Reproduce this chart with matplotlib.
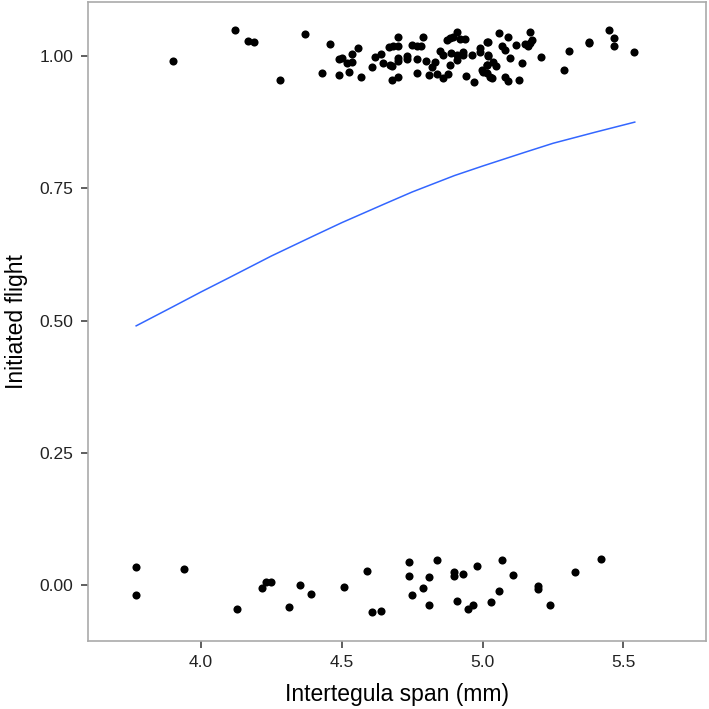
import matplotlib
matplotlib.use('Agg')
from matplotlib import pyplot as plt

# flew (jittered around 1)
x_flew = [3.90, 4.12, 4.168, 4.19, 4.279, 4.368, 4.459, 4.43, 4.489, 4.489, 4.499,
          4.518, 4.526, 4.538, 4.558, 4.538, 4.569, 4.608, 4.619, 4.638, 4.647,
          4.668, 4.683, 4.699, 4.699, 4.671, 4.680, 4.699, 4.699, 4.730, 4.730,
          4.680, 4.699, 4.748, 4.768, 4.780, 4.789, 4.768, 4.768, 4.799, 4.819,
          4.831, 4.848, 4.860, 4.887, 4.808, 4.839, 4.860, 4.878, 4.884, 4.908,
          4.872, 4.884, 4.896, 4.908, 4.919, 4.937, 4.908, 4.929, 4.929, 4.941,
          4.961, 4.970, 4.990, 4.990, 5.002, 5.014, 5.020, 5.014, 5.019, 5.059,
          5.090, 5.068, 5.079, 5.118, 5.150, 5.162, 5.168, 5.177, 5.168, 5.019,
          5.016, 5.038, 5.046, 5.097, 5.138, 5.207, 5.307, 5.289, 5.377, 5.377,
          5.448, 5.468, 5.468, 5.537, 4.996, 5.014, 5.026, 5.032, 5.079, 5.091,
          5.129]
y_flew = [0.990, 1.049, 1.028, 1.026, 0.955, 1.042, 1.023, 0.967, 0.964, 0.995, 0.997,
          0.987, 0.970, 1.004, 1.015, 0.989, 0.960, 0.979, 0.998, 1.004, 0.987,
          1.017, 1.019, 1.018, 1.036, 0.983, 0.981, 0.996, 0.991, 0.999, 0.994,
          0.955, 0.960, 1.021, 1.019, 1.019, 1.036, 0.994, 0.967, 0.991, 0.979,
          0.989, 1.009, 1.002, 1.005, 0.964, 0.965, 0.958, 0.965, 0.982, 0.992,
          1.030, 1.033, 1.036, 1.046, 1.032, 1.032, 1.002, 1.007, 1.001, 0.962,
          1.002, 0.951, 1.015, 1.008, 0.970, 1.026, 0.999, 0.982, 1.026, 1.043,
          1.035, 1.018, 1.011, 1.021, 1.022, 1.018, 1.024, 1.030, 1.046, 1.002,
          0.983, 0.989, 0.981, 0.996, 0.986, 0.998, 1.009, 0.974, 1.027, 1.024,
          1.049, 1.033, 1.018, 1.007, 0.974, 0.967, 0.961, 0.958, 0.961, 0.953,
          0.954]

# did not fly (jittered around 0)
x_stay = [3.769, 3.769, 3.940, 4.129, 4.218, 4.230, 4.248, 4.313, 4.350, 4.389,
          4.509, 4.589, 4.609, 4.639, 4.739, 4.739, 4.749, 4.789, 4.809, 4.809,
          4.838, 4.898, 4.898, 4.929, 4.909, 4.949, 4.967, 4.979, 5.069, 5.108,
          5.059, 5.028, 5.197, 5.197, 5.238, 5.328, 5.419]
y_stay = [0.035, -0.019, 0.031, -0.045, -0.006, 0.006, 0.006, -0.041, 0.001, -0.016,
          -0.004, 0.026, -0.051, -0.049, 0.044, 0.017, -0.019, -0.005, 0.016, -0.038,
          0.047, 0.025, 0.017, 0.022, -0.030, -0.045, -0.038, 0.037, 0.048, 0.019,
          -0.011, -0.031, -0.002, -0.008, -0.037, 0.025, 0.049]

# fitted logistic curve
x_fit = [3.77, 3.9, 4.0, 4.1, 4.25, 4.4, 4.5, 4.65, 4.75, 4.9, 5.0, 5.15, 5.25, 5.4, 5.54]
y_fit = [0.490, 0.526, 0.554, 0.581, 0.622, 0.660, 0.685, 0.720, 0.743, 0.774, 0.792,
         0.818, 0.835, 0.856, 0.875]

plt.rcParams['font.family'] = ['Liberation Sans', 'DejaVu Sans']

fig = plt.figure(figsize=(7.09, 7.09), dpi=100)
ax = fig.add_axes([0.1241, 0.0963, 0.8717, 0.9009])

ax.scatter(x_flew, y_flew, s=34, color='black', linewidths=0, zorder=3)
ax.scatter(x_stay, y_stay, s=34, color='black', linewidths=0, zorder=3)
ax.plot(x_fit, y_fit, color='#3366FF', lw=1.1, zorder=2)

ax.set_xlim(3.599, 5.793)
ax.set_ylim(-0.105, 1.102)
ax.set_xticks([4.0, 4.5, 5.0, 5.5])
ax.set_xticklabels(['4.0', '4.5', '5.0', '5.5'])
ax.set_yticks([0, 0.25, 0.5, 0.75, 1.0])
ax.set_yticklabels(['0.00', '0.25', '0.50', '0.75', '1.00'])

for sp in ax.spines.values():
    sp.set_color('#aaaaaa')
    sp.set_linewidth(1.2)
ax.tick_params(length=5, width=1.1, color='#333333', labelsize=12.5,
               labelcolor='#222222', pad=5.5)

ax.set_xlabel('Intertegula span (mm)', fontsize=16.5, labelpad=9)
ax.set_ylabel('Initiated flight', fontsize=16.5, labelpad=8)

fig.savefig('out.png', dpi=100)
